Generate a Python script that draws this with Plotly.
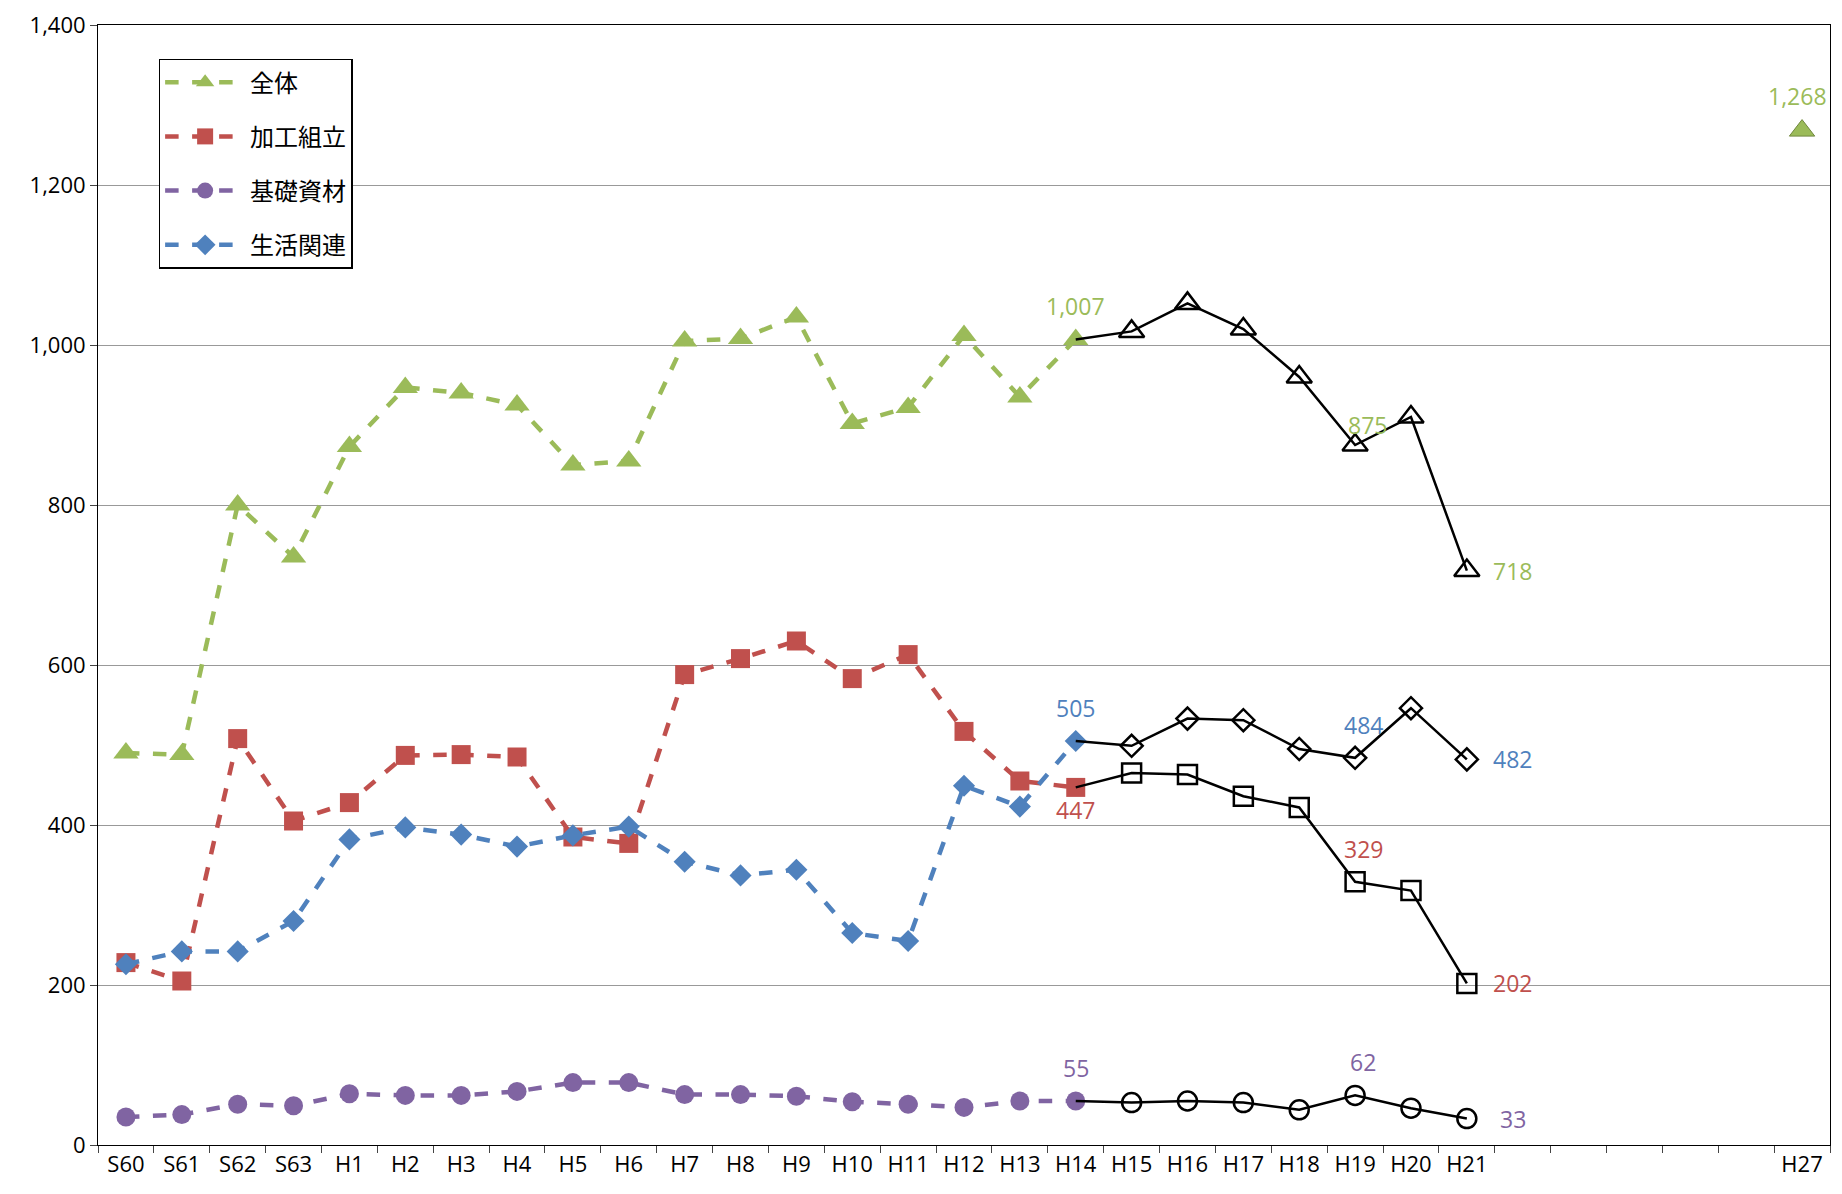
import plotly.graph_objects as go

CATS = ['S60', 'S61', 'S62', 'S63'] + [f'H{i}' for i in range(1, 28)]
TICK_TEXT = [c if c not in ('H22', 'H23', 'H24', 'H25', 'H26') else '' for c in CATS]

PAST = CATS[:18]          # S60..H14
RECENT = CATS[17:25]      # H14..H21

zentai = [490, 488, 800, 735, 873, 947, 940, 925, 850, 855, 1005, 1008, 1035, 902, 922, 1012, 935, 1007]
zentai_new = [1007, 1017, 1052, 1020, 960, 875, 910, 718]
kakou = [228, 205, 508, 405, 428, 487, 488, 485, 385, 377, 588, 608, 630, 583, 613, 517, 455, 447]
kakou_new = [447, 465, 463, 436, 422, 329, 318, 202]
kiso = [35, 38, 51, 49, 64, 62, 62, 67, 78, 78, 63, 63, 61, 54, 51, 47, 55, 55]
kiso_new = [55, 53, 55, 53, 44, 62, 46, 33]
seikatsu = [226, 242, 242, 280, 382, 397, 388, 373, 387, 398, 354, 337, 344, 265, 255, 449, 423, 505]
seikatsu_new = [505, 499, 533, 531, 495, 484, 546, 482]
zentai_h27 = 1268

GREEN, RED, PURPLE, BLUE = '#9BBB59', '#C0504D', '#8064A2', '#4F81BD'

fig = go.Figure()
series = [
    ('全体', zentai, zentai_new, GREEN, 'triangle-up', 22),
    ('加工組立', kakou, kakou_new, RED, 'square', 19),
    ('基礎資材', kiso, kiso_new, PURPLE, 'circle', 19),
    ('生活関連', seikatsu, seikatsu_new, BLUE, 'diamond', 17),
]
for name, past, recent, color, sym, size in series:
    fig.add_trace(go.Scatter(
        x=PAST, y=past, name=name, mode='lines+markers', legendgroup=name,
        line=dict(color=color, width=4.5, dash='dash'),
        marker=dict(symbol=sym, size=size, color=color),
    ))
for name, past, recent, color, sym, size in series:
    fig.add_trace(go.Scatter(
        x=RECENT, y=recent, mode='lines', showlegend=False,
        line=dict(color='black', width=2.5),
    ))
    fig.add_trace(go.Scatter(
        x=RECENT[1:], y=recent[1:], mode='markers', showlegend=False,
        marker=dict(symbol=sym + '-open', size=size, color='black', line=dict(width=2.5)),
    ))
fig.add_trace(go.Scatter(
    x=['H27'], y=[zentai_h27], mode='markers', showlegend=False,
    marker=dict(symbol='triangle-up', size=22, color=GREEN, line=dict(color='#71893F', width=1)),
))

labels = [
    ('H14', 1007, '1,007', GREEN, 'above'), ('H19', 875, '875', GREEN, 'above'),
    ('H21', 718, '718', GREEN, 'right'), ('H27', 1268, '1,268', GREEN, 'above'),
    ('H14', 505, '505', BLUE, 'above'), ('H19', 484, '484', BLUE, 'above'),
    ('H21', 482, '482', BLUE, 'right'),
    ('H14', 447, '447', RED, 'below'), ('H19', 329, '329', RED, 'above'),
    ('H21', 202, '202', RED, 'right'),
    ('H14', 55, '55', PURPLE, 'above'), ('H19', 62, '62', PURPLE, 'above'),
    ('H21', 33, '33', PURPLE, 'right'),
]
for x, y, text, color, pos in labels:
    if pos == 'above':
        kw = dict(yshift=33, xshift=0 if x != 'H19' else 8)
        if text == '875':
            kw = dict(yshift=20, xshift=12)
        if text == '1,268':
            kw = dict(yshift=35, xshift=-5)
    elif pos == 'below':
        kw = dict(yshift=-23)
    else:
        kw = dict(xshift=46)
    fig.add_annotation(x=x, y=y, text=text, showarrow=False,
                       font=dict(color=color, size=23), **kw)

fig.update_layout(
    width=1842, height=1194, plot_bgcolor='white', paper_bgcolor='white',
    margin=dict(l=90, r=20, t=17, b=57),
    font=dict(family='Open Sans, Noto Sans CJK JP, sans-serif', size=22, color='black'),
    legend=dict(x=0.035, y=0.97, xanchor='left', yanchor='top', bordercolor='black',
                borderwidth=1.5, font=dict(size=24, family='Noto Sans CJK JP'),
                itemwidth=80, tracegroupgap=20),
    showlegend=True,
)
fig.update_xaxes(type='category', categoryorder='array', categoryarray=CATS,
                 tickvals=CATS, ticktext=TICK_TEXT, tickson='boundaries',
                 ticks='outside', ticklen=7, showgrid=False, showline=True,
                 linecolor='black', mirror=True, range=[-0.5, 30.5], automargin=False)
fig.update_yaxes(range=[0, 1400], dtick=200, tickformat=',', showgrid=True,
                 gridcolor='#999999', showline=True, linecolor='black',
                 ticks='outside', ticklen=7, mirror=True, zeroline=False, automargin=False)

fig.write_html('out.html')
